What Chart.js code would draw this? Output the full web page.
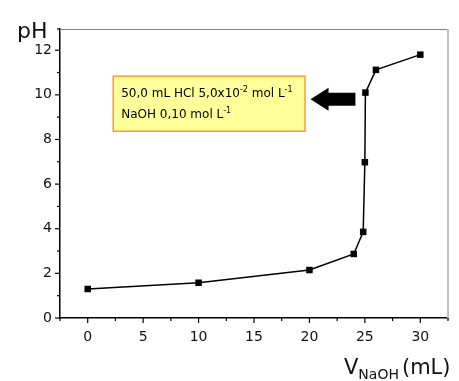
<!DOCTYPE html>
<html>
<head>
<meta charset="utf-8">
<script src="https://cdn.jsdelivr.net/npm/chart.js@4.4.0/dist/chart.umd.min.js"></script>
<style>
  body { margin: 0; background: #fff; }
  #wrap { width: 459px; height: 381px; }
</style>
</head>
<body>
<div id="wrap"><canvas id="canvas"></canvas></div>
<script>
// titration data
var volume = [0, 10, 20, 24, 24.85, 25.0, 25.05, 26, 30];
var pH = [1.3, 1.58, 2.15, 2.87, 3.86, 6.98, 10.1, 11.12, 11.8];

var xTickLabels = [0, 5, 10, 15, 20, 25, 30];
var yTickLabels = [0, 2, 4, 6, 8, 10, 12];

// note box + arrow, in data units
var noteLines = [
  [['50,0 mL HCl 5,0x10', false], ['-2', true], [' mol L', false], ['-1', true]],
  [['NaOH 0,10 mol L', false], ['-1', true]]
];
var noteBox = { x1: 2.3, x2: 19.6, y1: 10.84, y2: 8.37 };
var arrow = { tip: 20.1, tail: 24.15, y: 9.8 };

var FONT = '"DejaVu Sans", sans-serif';

var points = volume.map(function (v, i) { return { x: v, y: pH[i] }; });

var extras = {
  id: 'extras',
  afterDraw: function (chart) {
    var ctx = chart.ctx;
    var a = chart.chartArea;
    var xs = chart.scales.x, ys = chart.scales.y;
    ctx.save();

    // frame top + right
    ctx.lineWidth = 1.2;
    ctx.strokeStyle = '#808080';
    ctx.beginPath();
    ctx.moveTo(a.left, a.top + 0.5);
    ctx.lineTo(a.right, a.top + 0.5);
    ctx.stroke();
    ctx.strokeStyle = '#c0c0c0';
    ctx.lineWidth = 2;
    ctx.beginPath();
    ctx.moveTo(a.right, a.top);
    ctx.lineTo(a.right, a.bottom);
    ctx.stroke();

    // tick marks
    ctx.strokeStyle = '#000';
    ctx.lineWidth = 1.2;
    xs.ticks.forEach(function (t) {
      var px = xs.getPixelForValue(t.value);
      var len = (t.value % 5 === 0) ? 5 : 3;
      ctx.beginPath();
      ctx.moveTo(px, a.bottom);
      ctx.lineTo(px, a.bottom + len);
      ctx.stroke();
    });
    ys.ticks.forEach(function (t) {
      var py = ys.getPixelForValue(t.value);
      var len = (t.value % 2 === 0) ? 5 : 3;
      ctx.beginPath();
      ctx.moveTo(a.left, py);
      ctx.lineTo(a.left - len, py);
      ctx.stroke();
    });

    // axis titles
    ctx.fillStyle = '#111';
    ctx.textBaseline = 'alphabetic';
    ctx.textAlign = 'left';
    ctx.font = '22px ' + FONT;
    ctx.fillText('pH', 17, 38);
    ctx.font = '21px ' + FONT;
    var vx = 344;
    ctx.fillText('V', vx, 374);
    vx += ctx.measureText('V').width;
    ctx.font = '14px ' + FONT;
    ctx.fillText('NaOH', vx, 379);
    vx += ctx.measureText('NaOH').width + 3;
    ctx.font = '21px ' + FONT;
    ctx.fillText('(mL)', vx, 374);

    // note box
    var bx1 = xs.getPixelForValue(noteBox.x1), bx2 = xs.getPixelForValue(noteBox.x2);
    var by1 = ys.getPixelForValue(noteBox.y1), by2 = ys.getPixelForValue(noteBox.y2);
    ctx.fillStyle = '#ffff99';
    ctx.fillRect(bx1, by1, bx2 - bx1, by2 - by1);
    ctx.strokeStyle = '#ff9933';
    ctx.lineWidth = 1.5;
    ctx.strokeRect(bx1, by1, bx2 - bx1, by2 - by1);
    ctx.fillStyle = '#000';
    noteLines.forEach(function (line, i) {
      var tx = bx1 + 8;
      var ty = by1 + 21 + i * 21;
      line.forEach(function (seg) {
        if (seg[1]) {
          ctx.font = '8px ' + FONT;
          ctx.fillText(seg[0], tx, ty - 5);
        } else {
          ctx.font = '12px ' + FONT;
          ctx.fillText(seg[0], tx, ty);
        }
        tx += ctx.measureText(seg[0]).width;
      });
    });

    // arrow
    var tip = xs.getPixelForValue(arrow.tip), tail = xs.getPixelForValue(arrow.tail);
    var ay = ys.getPixelForValue(arrow.y);
    ctx.beginPath();
    ctx.moveTo(tip, ay);
    ctx.lineTo(tip + 18, ay - 11.5);
    ctx.lineTo(tip + 18, ay - 6.5);
    ctx.lineTo(tail, ay - 6.5);
    ctx.lineTo(tail, ay + 6.5);
    ctx.lineTo(tip + 18, ay + 6.5);
    ctx.lineTo(tip + 18, ay + 11.5);
    ctx.closePath();
    ctx.fill();

    ctx.restore();
  }
};

new Chart(document.getElementById('canvas').getContext('2d'), {
  type: 'scatter',
  data: {
    datasets: [{
      data: points,
      showLine: true,
      borderColor: '#000',
      borderWidth: 1.5,
      backgroundColor: '#000',
      pointStyle: 'rect',
      pointRadius: 4.6,
      pointBorderWidth: 0
    }]
  },
  options: {
    responsive: true,
    maintainAspectRatio: false,
    animation: false,
    layout: { padding: { left: 0, top: 29, right: 9, bottom: 0 } },
    plugins: { legend: { display: false }, tooltip: { enabled: false } },
    scales: {
      x: {
        type: 'linear',
        min: -2.5,
        max: 32.5,
        afterFit: function (s) { s.height = 63; },
        grid: { display: false, drawTicks: false, tickLength: 0 },
        border: { display: true, color: '#000', width: 1.5 },
        ticks: {
          stepSize: 2.5,
          padding: 11,
          color: '#111',
          font: { family: FONT, size: 14 },
          callback: function (v) { return xTickLabels.indexOf(v) >= 0 ? String(v) : ''; }
        }
      },
      y: {
        type: 'linear',
        min: 0,
        max: 12.95,
        afterFit: function (s) { s.width = 60; },
        grid: { display: false, drawTicks: false, tickLength: 0 },
        border: { display: true, color: '#000', width: 1.5 },
        ticks: {
          stepSize: 1,
          padding: 8,
          color: '#111',
          font: { family: FONT, size: 14 },
          callback: function (v) { return yTickLabels.indexOf(v) >= 0 ? String(v) : ''; }
        }
      }
    }
  },
  plugins: [extras]
});
</script>
</body>
</html>
